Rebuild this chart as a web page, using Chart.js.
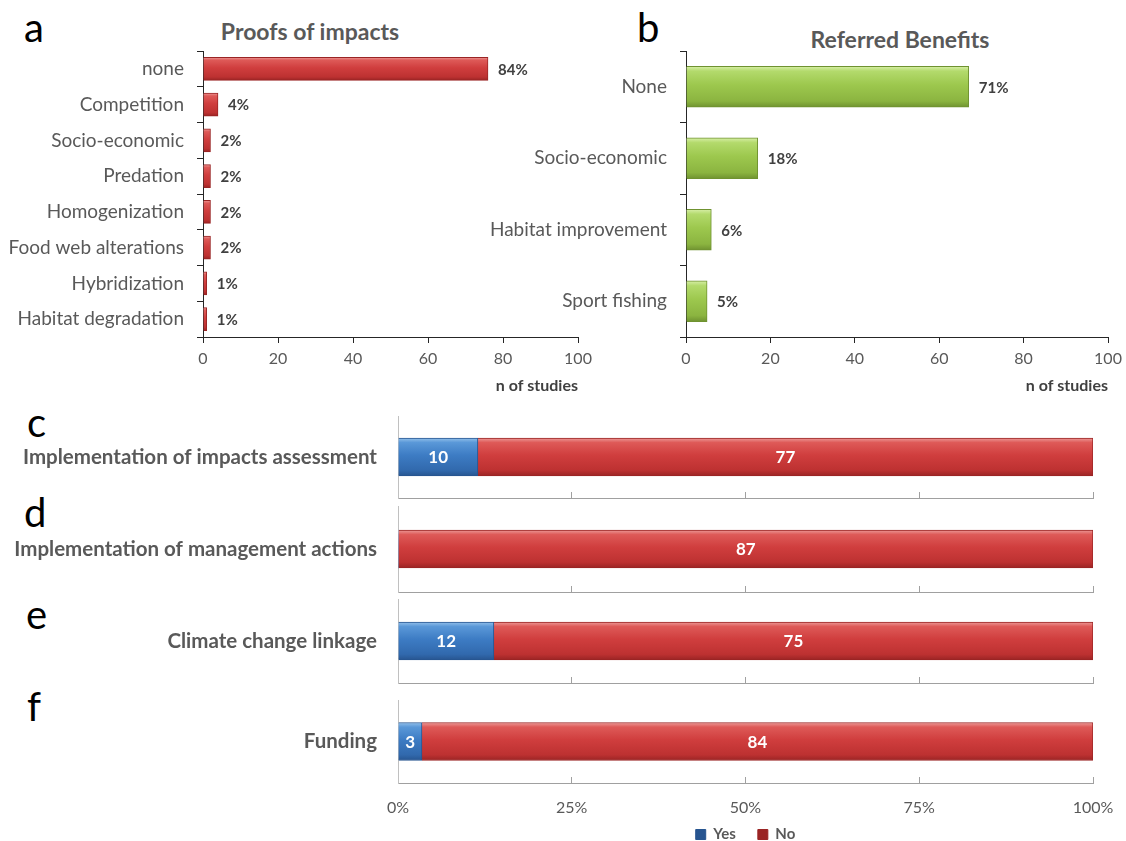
<!DOCTYPE html>
<html><head><meta charset="utf-8">
<script src="https://cdn.jsdelivr.net/npm/chart.js@4/dist/chart.umd.min.js"></script>
<style>
html,body{margin:0;padding:0;background:#fff;overflow:hidden;width:1126px;height:841px;}
#wrap{position:relative;width:1126px;height:841px;overflow:hidden;}
canvas{position:absolute;}
.t{position:absolute;white-space:nowrap;font-family:Lato,'Open Sans',sans-serif;line-height:1;}
.lt{font-size:40px;color:#000;}
.ttl{font-size:23px;font-weight:bold;color:#595959;transform:translateX(-50%);}
</style></head><body><div id="wrap">
<div class="t lt" style="left:24px;top:7px">a</div>
<div class="t lt" style="left:637px;top:7px">b</div>
<div class="t lt" style="left:27px;top:402px">c</div>
<div class="t lt" style="left:24px;top:492px">d</div>
<div class="t lt" style="left:26px;top:594px">e</div>
<div class="t lt" style="left:27px;top:686px">f</div>
<div class="t ttl" style="left:310px;top:20px">Proofs of impacts</div>
<div class="t ttl" style="left:900px;top:28px">Referred Benefits</div>
<canvas id="ca" width="600" height="400" style="left:0;top:0"></canvas>
<canvas id="cb" width="686" height="400" style="left:440px;top:0"></canvas>
<canvas id="cc" width="1126" height="90" style="left:0;top:416px"></canvas>
<canvas id="cd" width="1126" height="94" style="left:0;top:506px"></canvas>
<canvas id="ce" width="1126" height="92" style="left:0;top:599px"></canvas>
<canvas id="cf" width="1126" height="160" style="left:0;top:700px"></canvas>
</div>
<script>
// ---- data ----
const impactCategories = ['none','Competition','Socio-economic','Predation','Homogenization','Food web alterations','Hybridization','Habitat degradation'];
const impactStudies = [76,4,2,2,2,2,1,1];
const impactPercent = ['84%','4%','2%','2%','2%','2%','1%','1%'];
const benefitCategories = ['None','Socio-economic','Habitat improvement','Sport fishing'];
const benefitStudies = [67,17,6,5];
const benefitPercent = ['71%','18%','6%','5%'];
const studyTicks = [0,20,40,60,80,100];
const practiceCategories = ['Implementation of impacts assessment','Implementation of management actions','Climate change linkage','Funding'];
const practiceYes = [10,0,12,3];
const practiceNo = [77,87,75,84];
const shareTicks = ['0%','25%','50%','75%','100%'];
const seriesNames = ['Yes','No'];

// ---- styles ----
const FONT = 'Lato, "Open Sans", sans-serif';
const redStops = [[0,'#ec9a98'],[0.12,'#de5a58'],[0.45,'#d03e3e'],[0.85,'#bd3131'],[1,'#9a2424']];
const greenStops = [[0,'#d8efa8'],[0.12,'#b3da6c'],[0.45,'#9dc84e'],[0.85,'#8bb440'],[1,'#6f9230']];
const blueStops = [[0,'#93c0ea'],[0.12,'#5a98d8'],[0.45,'#3d7cc4'],[0.85,'#3169ad'],[1,'#275590']];

function vGrad(stops, half, fallback) {
  return (c) => {
    if (c.type !== 'data') return fallback;
    const ch = c.chart, sc = ch.scales && ch.scales.y;
    if (!sc || !ch.chartArea) return fallback;
    const yc = sc.getPixelForValue(c.dataIndex);
    if (!isFinite(yc)) return fallback;
    const g = ch.ctx.createLinearGradient(0, yc - half, 0, yc + half);
    stops.forEach(([o, col]) => g.addColorStop(o, col));
    return g;
  };
}

const valueLabels = {
  id: 'valueLabels',
  afterDatasetsDraw(chart, args, o) {
    const ctx = chart.ctx;
    ctx.save();
    ctx.font = o.font; ctx.fillStyle = o.color; ctx.textBaseline = 'middle';
    chart.data.datasets.forEach((ds, di) => {
      const texts = o.texts[di]; if (!texts) return;
      chart.getDatasetMeta(di).data.forEach((bar, i) => {
        const t = texts[i]; if (!t) return;
        if (o.mode === 'end') { ctx.textAlign = 'left'; ctx.fillText(t, bar.x + o.offset, bar.y + 1); }
        else { ctx.textAlign = 'center'; ctx.fillText(t, (bar.x + bar.base) / 2, bar.y + 1); }
      });
    });
    ctx.restore();
  }
};

function hbar(id, cats, vals, texts, stops, fallback, border, thick, axisLeft, padRight) {
  return new Chart(document.getElementById(id), {
    type: 'bar',
    data: { labels: cats, datasets: [{ data: vals, backgroundColor: vGrad(stops, thick / 2, fallback), borderColor: border, borderWidth: 1, barThickness: thick }] },
    plugins: [valueLabels],
    options: {
      indexAxis: 'y', responsive: false, animation: false,
      layout: { padding: { left: 0, right: padRight, top: 51, bottom: 0 } },
      plugins: {
        legend: { display: false }, tooltip: { enabled: false },
        valueLabels: { texts: [texts], mode: 'end', offset: 10, font: 'bold 15px ' + FONT, color: '#404040' }
      },
      scales: {
        x: {
          min: studyTicks[0], max: studyTicks[studyTicks.length - 1],
          afterBuildTicks: s => { s.ticks = studyTicks.map(v => ({ value: v })); },
          ticks: { color: '#595959', font: { family: FONT, size: 16 }, padding: 6 },
          grid: { drawOnChartArea: false, tickLength: 6, color: '#262626' },
          border: { color: '#262626' },
          title: { display: true, text: 'n of studies', align: 'end', color: '#404040', font: { family: FONT, size: 16, weight: 'bold' }, padding: { top: 0, bottom: 5 } },
          afterFit: s => { s.height = 63; s.paddingLeft = 0; s.paddingRight = 0; }
        },
        y: {
          ticks: { color: '#595959', font: { family: FONT, size: 19 }, padding: 13 },
          grid: { drawOnChartArea: false, tickLength: 6, color: '#262626' },
          border: { color: '#262626' },
          afterFit: s => { s.width = axisLeft; s.paddingTop = 0; s.paddingBottom = 0; }
        }
      }
    }
  });
}

hbar('ca', impactCategories, impactStudies, impactPercent, redStops, '#d03e3e', '#9a2424', 23, 203, 22);
hbar('cb', benefitCategories, benefitStudies, benefitPercent, greenStops, '#9dc84e', '#6f9230', 41, 246, 18);

function practice(id, i, last, xHeight, padBottom) {
  const total = practiceYes[i] + practiceNo[i];
  return new Chart(document.getElementById(id), {
    type: 'bar',
    data: {
      labels: [practiceCategories[i]],
      datasets: [
        { label: seriesNames[0], data: [practiceYes[i] / total * 100], backgroundColor: vGrad(blueStops, 19, '#3d7cc4'), borderColor: '#275590', borderWidth: c => (c.raw > 0 ? 1 : 0), barThickness: 38 },
        { label: seriesNames[1], data: [practiceNo[i] / total * 100], backgroundColor: vGrad(redStops, 19, '#d03e3e'), borderColor: '#9a2424', borderWidth: 1, barThickness: 38 }
      ]
    },
    plugins: [valueLabels],
    options: {
      indexAxis: 'y', responsive: false, animation: false,
      layout: { padding: { left: 0, right: 33, top: 0, bottom: padBottom } },
      plugins: {
        tooltip: { enabled: false },
        legend: {
          display: last, position: 'bottom', fullSize: false,
          labels: { boxWidth: 10, boxHeight: 10, padding: 22, color: '#595959', font: { family: FONT, size: 15, weight: 'bold' } }
        },
        valueLabels: {
          texts: [[practiceYes[i] > 0 ? String(practiceYes[i]) : ''], [String(practiceNo[i])]],
          mode: 'center', font: 'bold 17px ' + FONT, color: '#ffffff'
        }
      },
      scales: {
        x: {
          stacked: true, min: 0, max: 100,
          ticks: { display: last, mirror: true, stepSize: 25, callback: (v, k) => shareTicks[k], color: '#595959', font: { family: FONT, size: 16 }, padding: -34.6 },
          grid: { drawOnChartArea: false, tickLength: -6, color: '#a0a0a0' },
          border: { color: '#a0a0a0' },
          afterFit: s => { s.height = xHeight; s.paddingLeft = 0; s.paddingRight = 0; }
        },
        y: {
          stacked: true,
          ticks: { color: '#595959', font: { family: FONT, size: 20.5, weight: 'bold' }, padding: 21 },
          grid: { display: false, drawTicks: false },
          border: { color: '#c0c0c0' },
          afterFit: s => { s.width = 398; s.paddingTop = 0; s.paddingBottom = 0; }
        }
      }
    }
  });
}

practice('cc', 0, false, 8, 0);
practice('cd', 1, false, 8, 0);
practice('ce', 2, false, 8, 0);
practice('cf', 3, true, 22, 8);
</script>
</body></html>
